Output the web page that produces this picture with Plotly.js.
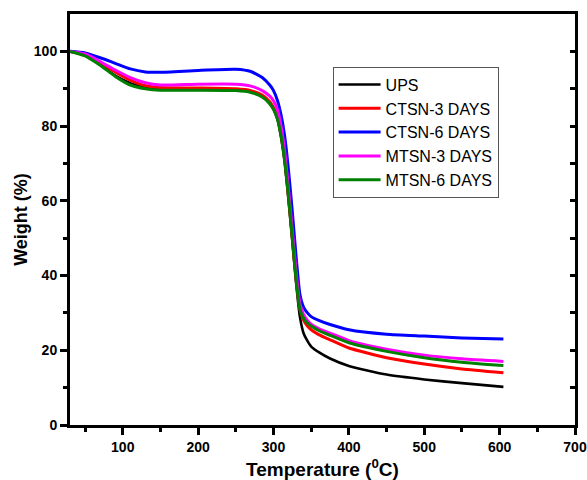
<!DOCTYPE html>
<html>
<head>
<meta charset="utf-8">
<script src="https://cdn.plot.ly/plotly-3.0.1.min.js"></script>
<style>html,body{margin:0;padding:0;background:#fff;}#chart{width:587px;height:480px;}</style>
</head>
<body>
<div id="chart"></div>
<script>
// Temperature (°C) sampling points
const temperature = [30, 50, 70, 90, 110, 130, 150, 200, 250, 270, 285, 295, 300, 305, 310, 315, 320, 325, 330, 335, 340, 345, 350, 360, 375, 400, 450, 500, 550, 605];

const seriesNames = ["UPS", "CTSN-3 DAYS", "CTSN-6 DAYS", "MTSN-3 DAYS", "MTSN-6 DAYS"];

const weightUPS   = [100, 99.0, 96.5, 93.5, 91.5, 90.3, 90.0, 90.0, 89.8, 89.3, 88.0, 86.0, 84.5, 82.0, 77.0, 70.0, 60.0, 49.0, 38.0, 29.0, 24.5, 22.5, 21.0, 19.5, 17.8, 15.8, 13.5, 12.2, 11.2, 10.2];
const weightCTSN3 = [100, 99.2, 97.0, 94.5, 92.3, 90.8, 90.3, 90.2, 90.0, 89.5, 88.3, 86.5, 85.0, 82.5, 78.0, 71.0, 61.0, 50.0, 39.0, 31.0, 28.0, 26.5, 25.5, 24.2, 22.8, 20.6, 18.0, 16.3, 15.0, 14.0];
const weightCTSN6 = [100, 99.6, 98.3, 96.8, 95.3, 94.5, 94.4, 94.9, 95.2, 94.6, 93.0, 91.0, 89.5, 87.0, 83.0, 77.0, 68.0, 57.0, 45.0, 35.0, 31.5, 30.0, 29.0, 28.0, 26.9, 25.5, 24.3, 23.8, 23.3, 23.0];
const weightMTSN3 = [100, 99.3, 97.3, 95.0, 93.0, 91.6, 91.0, 91.2, 91.2, 90.7, 89.5, 88.0, 86.8, 84.5, 80.0, 73.0, 63.0, 52.0, 41.0, 32.5, 29.5, 28.0, 27.0, 25.8, 24.6, 22.6, 20.3, 18.7, 17.7, 17.0];
const weightMTSN6 = [100, 98.8, 96.3, 93.3, 91.0, 90.0, 89.6, 89.6, 89.5, 89.0, 87.8, 86.0, 84.5, 82.0, 77.5, 70.5, 61.0, 50.0, 39.0, 31.0, 28.5, 27.3, 26.5, 25.3, 24.0, 22.0, 19.7, 18.0, 16.8, 15.9];

const seriesValues = [weightUPS, weightCTSN3, weightCTSN6, weightMTSN3, weightMTSN6];
const seriesColors = ["#000000", "#ff0000", "#0000ff", "#ff00ff", "#008000"];
const seriesWidths = [2.6, 3, 3, 3, 3];

const xTickVals = [100, 200, 300, 400, 500, 600, 700];
const yTickVals = [0, 20, 40, 60, 80, 100];

const traces = seriesNames.map((name, i) => ({
  type: "scatter",
  mode: "lines",
  name: name,
  x: temperature,
  y: seriesValues[i],
  line: {color: seriesColors[i], width: seriesWidths[i], shape: "spline", smoothing: 0.5}
}));

// invisible trace on the right axis to carry the inward mirror ticks
traces.push({type: "scatter", mode: "lines", x: [30], y: [0], yaxis: "y2", showlegend: false, hoverinfo: "skip", line: {width: 0}});

const tickFont = {family: "Liberation Sans, Arial, sans-serif", size: 14, color: "#000", weight: "bold"};

const layout = {
  width: 587,
  height: 480,
  margin: {l: 70, r: 12, t: 14, b: 55},
  paper_bgcolor: "#fff",
  plot_bgcolor: "#fff",
  showlegend: true,
  legend: {
    x: 0.52, y: 0.872, xanchor: "left", yanchor: "top",
    bgcolor: "#fff", bordercolor: "#555", borderwidth: 1,
    font: {family: "Liberation Sans, Arial, sans-serif", size: 16, color: "#000"},
    itemwidth: 42,
    tracegroupgap: 0
  },
  xaxis: {
    range: [30, 700],
    tickvals: xTickVals,
    ticktext: xTickVals.map(String),
    ticks: "outside", ticklen: 7, tickwidth: 3, tickcolor: "#000",
    minor: {tickvals: [50, 150, 250, 350, 450, 550, 650], ticks: "outside", ticklen: 4, tickwidth: 3, tickcolor: "#000"},
    showline: true, linewidth: 3, linecolor: "#000", mirror: true,
    showgrid: false, zeroline: false,
    tickfont: tickFont,
    title: {text: "Temperature (<sup>0</sup>C)", font: {family: "Liberation Sans, Arial, sans-serif", size: 19, color: "#000", weight: "bold"}, standoff: 9}
  },
  yaxis: {
    range: [0, 110],
    tickvals: yTickVals,
    ticktext: yTickVals.map(String),
    ticks: "outside", ticklen: 7, tickwidth: 3, tickcolor: "#000",
    minor: {tickvals: [10, 30, 50, 70, 90], ticks: "outside", ticklen: 4, tickwidth: 3, tickcolor: "#000"},
    showline: true, linewidth: 3, linecolor: "#000", mirror: true,
    showgrid: false, zeroline: false,
    tickfont: tickFont,
    title: {text: "Weight (%)", font: {family: "Liberation Sans, Arial, sans-serif", size: 18, color: "#000", weight: "bold"}, standoff: 2}
  },
  yaxis2: {
    overlaying: "y", side: "right", range: [0, 110],
    tickvals: [10, 20, 30, 40, 50, 60, 70, 80, 90, 100],
    showticklabels: false,
    ticks: "inside", ticklen: 5, tickwidth: 3, tickcolor: "#000",
    showline: false, showgrid: false, zeroline: false
  }
};

Plotly.newPlot("chart", traces, layout, {staticPlot: true, displayModeBar: false});
</script>
</body>
</html>
